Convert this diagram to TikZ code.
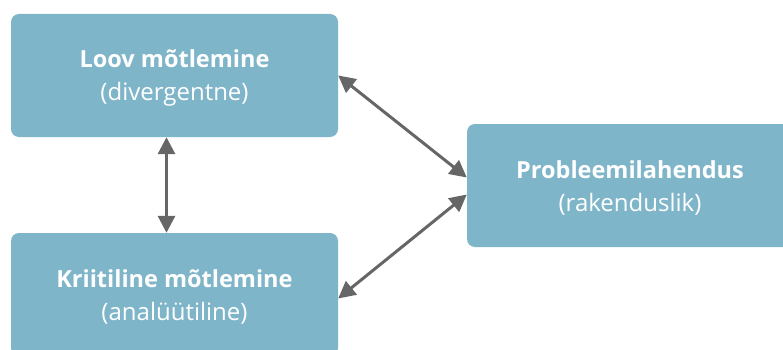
\documentclass[tikz,border=0pt]{standalone}
\usepackage{fontspec}
\setmainfont{Open Sans}
\usetikzlibrary{arrows.meta}
\definecolor{boxblue}{RGB}{127,181,201}
\definecolor{arrgray}{RGB}{102,102,102}
\newcommand{\hd}[1]{{\fontsize{23.5}{33}\selectfont\bfseries\rule{0pt}{23pt}#1}}
\tikzset{
  box/.style={fill=boxblue, rounded corners=8pt, text=white, align=center,
    inner sep=0pt, minimum width=327pt, minimum height=123pt,
    font=\fontsize{24}{33}\selectfont},
  link/.style={draw=arrgray, line width=3pt,
    {Triangle[length=17pt,width=17pt]}-{Triangle[length=17pt,width=17pt]}}
}
\begin{document}
\begin{tikzpicture}[x=1pt,y=-1pt]
\useasboundingbox (0,0) rectangle (783,350);
\node[box] (loov) at (174.5,75.5) {\hd{Loov mõtlemine}\\(divergentne)};
\node[box] (krit) at (174.5,294.5) {\hd{Kriitiline mõtlemine}\\(analüütiline)};
\node[box, minimum width=326pt] (prob) at (630,185.5) {\hd{Probleemilahendus}\\(rakenduslik)};
\draw[link] ([xshift=-8pt]loov.south) -- ([xshift=-8pt]krit.north);
\draw[link] (loov.east) -- ([yshift=8pt]prob.west);
\draw[link] ([yshift=-9pt]prob.west) -- ([yshift=-4pt]krit.east);
\end{tikzpicture}
\end{document}
